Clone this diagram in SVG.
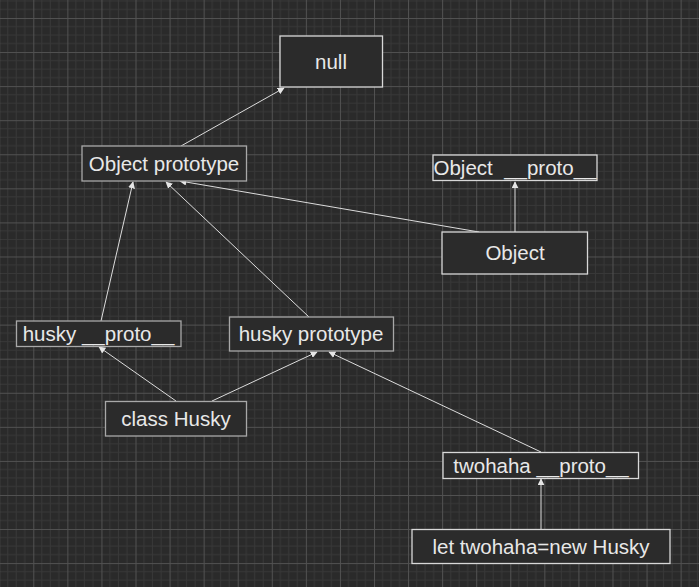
<svg xmlns="http://www.w3.org/2000/svg" width="699" height="587" viewBox="0 0 699 587">
<style>
.box{fill:#2b2b2b;stroke:#d8d8d8;stroke-width:1.3}
.box.g{stroke:#a8a8a8}
.lbl{font-family:"Liberation Sans",Arial,sans-serif;font-size:20.5px;fill:#e8e8e8;text-anchor:middle}
.edge{fill:none;stroke:#dcdcdc;stroke-width:1}
</style>
<defs>
<pattern id="grid" patternUnits="userSpaceOnUse" x="33.3" y="18" width="34.07" height="34.07">
<rect width="34.07" height="34.07" fill="#2a2a2a"/>
<path d="M8.52 0V34.07M17.03 0V34.07M25.55 0V34.07M0 8.52H34.07M0 17.03H34.07M0 25.55H34.07" stroke="#383838" stroke-width="1"/>
<path d="M0.5 0V34.07M0 0.5H34.07" stroke="#525252" stroke-width="1"/>
</pattern>
<marker id="arr" viewBox="0 0 10 10" refX="9" refY="5" markerWidth="7" markerHeight="7" markerUnits="userSpaceOnUse" orient="auto">
<path d="M0 0L10 5L0 10z" fill="#e6e6e6"/>
</marker>
</defs>
<rect width="699" height="587" fill="url(#grid)"/>
<g id="connectors">
<line class="edge" x1="181" y1="146" x2="284" y2="88" marker-end="url(#arr)"/>
<line class="edge" x1="101" y1="321" x2="133" y2="182" marker-end="url(#arr)"/>
<line class="edge" x1="309" y1="317" x2="166" y2="182" marker-end="url(#arr)"/>
<line class="edge" x1="479" y1="232" x2="180" y2="181" marker-end="url(#arr)"/>
<line class="edge" x1="515" y1="232" x2="515" y2="182" marker-end="url(#arr)"/>
<line class="edge" x1="176" y1="401" x2="99" y2="347" marker-end="url(#arr)"/>
<line class="edge" x1="212" y1="401" x2="317" y2="352" marker-end="url(#arr)"/>
<line class="edge" x1="541" y1="452" x2="329" y2="352" marker-end="url(#arr)"/>
<line class="edge" x1="541" y1="529" x2="541" y2="479" marker-end="url(#arr)"/>
</g>
<g id="null"><rect class="box" x="280" y="36" width="102.5" height="51"/><text class="lbl" x="331" y="69">null</text></g>
<g id="objectPrototype"><rect class="box g" x="82" y="146" width="164.5" height="35"/><text class="lbl" x="164" y="171">Object prototype</text></g>
<g id="objectProto"><rect class="box" x="433" y="155" width="164" height="25.5"/><text class="lbl" x="515" y="175" xml:space="preserve">Object  __proto__</text></g>
<g id="object"><rect class="box" x="442" y="232" width="145.5" height="42"/><text class="lbl" x="515" y="260">Object</text></g>
<g id="huskyProto"><rect class="box g" x="16.5" y="321" width="164.5" height="25.5"/><text class="lbl" x="98.5" y="341">husky __proto__</text></g>
<g id="huskyPrototype"><rect class="box g" x="229.5" y="317" width="164" height="34"/><text class="lbl" x="311" y="341">husky prototype</text></g>
<g id="classHusky"><rect class="box g" x="105.5" y="401.5" width="141" height="34.5"/><text class="lbl" x="176" y="426">class Husky</text></g>
<g id="twohahaProto"><rect class="box" x="443" y="452.5" width="195.5" height="26"/><text class="lbl" x="541" y="473">twohaha __proto__</text></g>
<g id="letTwohaha"><rect class="box" x="412" y="529.5" width="258" height="34"/><text class="lbl" x="541" y="554">let twohaha=new Husky</text></g>
</svg>
